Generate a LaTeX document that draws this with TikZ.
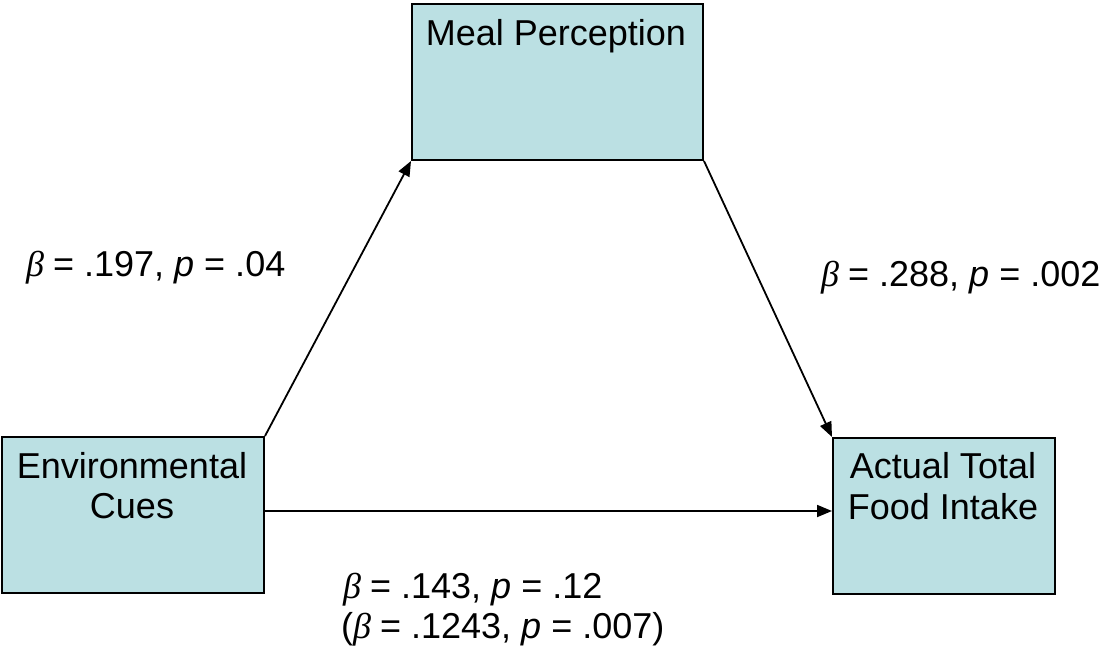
\documentclass[tikz,border=0pt]{standalone}
\usepackage{fontspec}
\setmainfont{Liberation Sans}
\newfontfamily\serifit{Liberation Serif}
\usetikzlibrary{arrows.meta}
\definecolor{boxfill}{HTML}{BBE0E3}
\newcommand{\bet}{{\serifit\itshape β}\hspace{9pt}}
\begin{document}
\begin{tikzpicture}[x=1pt,y=-1pt,
  box/.style={draw=black, line width=2pt, fill=boxfill, inner sep=0pt, anchor=north west},
  txt/.style={inner sep=0pt, anchor=base, font=\fontsize{36}{40}\selectfont},
  lbl/.style={inner sep=0pt, anchor=base west, font=\fontsize{36}{40}\selectfont},
  arr/.style={line width=1.8pt, -{Triangle[length=15pt,width=12pt]}}]
\useasboundingbox (0,0) rectangle (1105,654);
\node[box, minimum width=291pt, minimum height=156pt] (meal) at (411,3) {};
\node[box, minimum width=262pt, minimum height=156pt] (env) at (1,436) {};
\node[box, minimum width=222pt, minimum height=156pt] (act) at (832,437) {};
\node[txt] (mealt) at (556,45) {Meal Perception};
\node[txt] (envt1) at (132,478) {Environmental};
\node[txt] (envt2) at (132,518) {Cues};
\node[txt] (actt1) at (943,478) {Actual Total};
\node[txt] (actt2) at (943,519) {Food Intake};
\draw[arr] (env.north east) -- (meal.south west);
\draw[arr] (meal.south east) -- (act.north west);
\coordinate (h1) at ([yshift=4pt]env.east);
\draw[arr] (h1) -- (h1 -| act.west);
\node[lbl] (l1) at (26,276) {\bet= .197, \textit{p} = .04};
\node[lbl] (l2) at (821,286) {\bet= .288, \textit{p} = .002};
\node[lbl] (l3) at (343,598) {\bet= .143, \textit{p} = .12};
\node[lbl] (l4) at (341,638) {(\bet= .1243, \textit{p} = .007)};
\end{tikzpicture}
\end{document}
